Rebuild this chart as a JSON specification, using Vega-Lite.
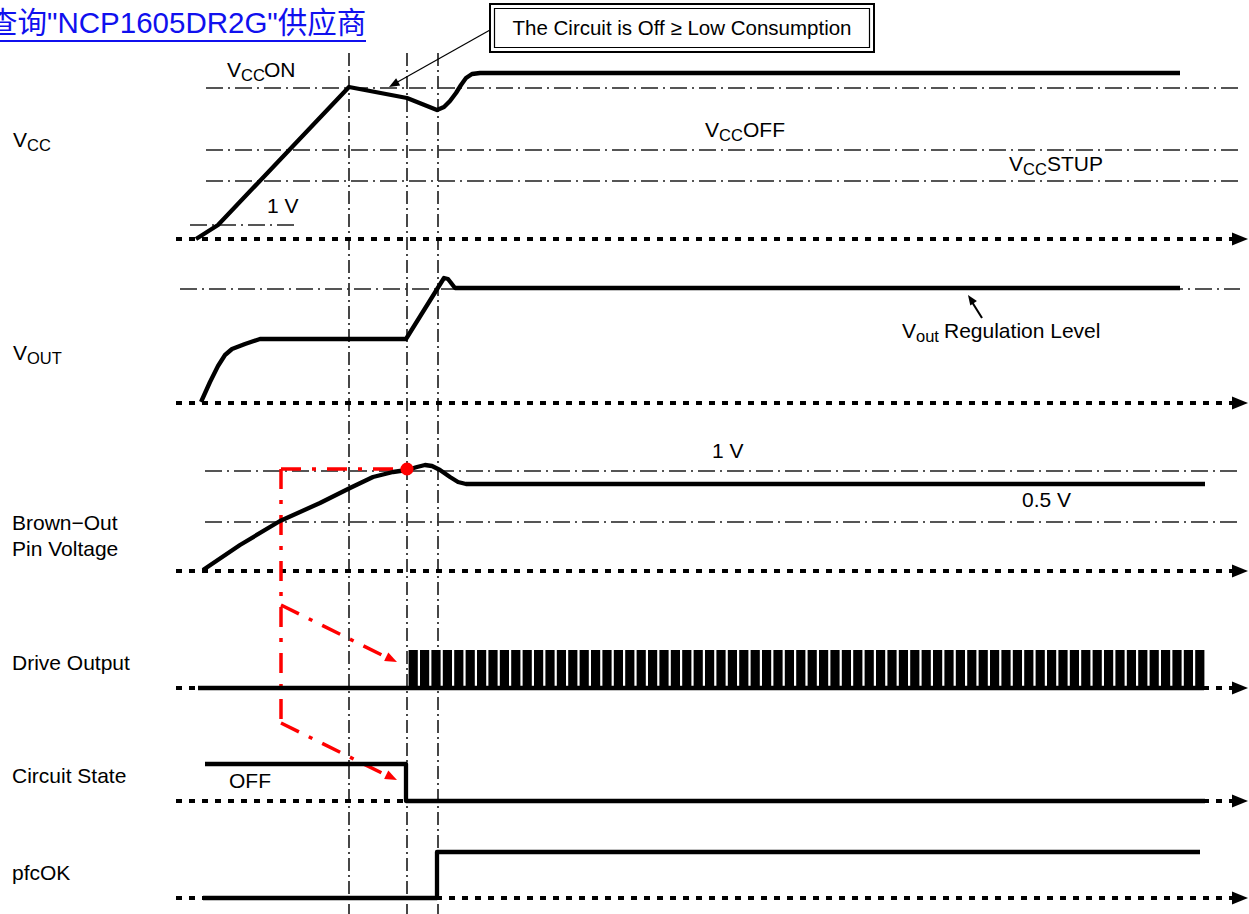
{
  "$schema": "https://vega.github.io/schema/vega-lite/v6.json",
  "width": 1249,
  "height": 914,
  "autosize": {"type": "none"},
  "padding": 0,
  "background": "white",
  "config": {"view": {"stroke": null}},
  "datasets": {
    "levels": [
      {"name": "VCCON", "t": 206, "t2": 1240, "v": 88},
      {"name": "VCCOFF", "t": 206, "t2": 1240, "v": 150},
      {"name": "VCCSTUP", "t": 206, "t2": 1240, "v": 181},
      {"name": "1V", "t": 190, "t2": 294, "v": 225},
      {"name": "VoutReg", "t": 180, "t2": 1240, "v": 289},
      {"name": "BO 1V", "t": 205, "t2": 1240, "v": 471},
      {"name": "BO 0.5V", "t": 205, "t2": 1240, "v": 522}
    ],
    "markers": [
      {"t": 349, "v": 53, "v2": 914},
      {"t": 407, "v": 53, "v2": 914},
      {"t": 438, "v": 53, "v2": 914}
    ],
    "baselines": [
      {"trace": "VCC", "t": 176, "t2": 1234, "v": 239},
      {"trace": "VOUT", "t": 176, "t2": 1234, "v": 403},
      {"trace": "Brown-Out", "t": 176, "t2": 1234, "v": 571},
      {"trace": "Drive", "t": 176, "t2": 1234, "v": 688},
      {"trace": "Circuit", "t": 176, "t2": 1234, "v": 801},
      {"trace": "pfcOK", "t": 176, "t2": 1234, "v": 898}
    ],
    "baselineTips": [
      {"t": 1248, "v": 239},
      {"t": 1248, "v": 403},
      {"t": 1248, "v": 571},
      {"t": 1248, "v": 688},
      {"t": 1248, "v": 801},
      {"t": 1248, "v": 898}
    ],
    "redPath": [
      {"t": 281, "v": 469, "t2": 407, "v2": 469},
      {"t": 281, "v": 469, "t2": 281, "v2": 723},
      {"t": 281, "v": 723, "t2": 388, "v2": 776},
      {"t": 281, "v": 605, "t2": 388, "v2": 658}
    ],
    "redTips": [
      {"t": 397, "v": 662},
      {"t": 397, "v": 780}
    ],
    "signals": [
      {"s": "VCC", "i": 0, "t": 196, "v": 239},
      {"s": "VCC", "i": 1, "t": 218, "v": 225},
      {"s": "VCC", "i": 2, "t": 349, "v": 87},
      {"s": "VCC", "i": 3, "t": 407, "v": 98},
      {"s": "VCC", "i": 4, "t": 437, "v": 110},
      {"s": "VCC", "i": 5, "t": 444, "v": 107},
      {"s": "VCC", "i": 6, "t": 450, "v": 101},
      {"s": "VCC", "i": 7, "t": 456, "v": 93},
      {"s": "VCC", "i": 8, "t": 461, "v": 85},
      {"s": "VCC", "i": 9, "t": 466, "v": 78},
      {"s": "VCC", "i": 10, "t": 472, "v": 74},
      {"s": "VCC", "i": 11, "t": 480, "v": 73},
      {"s": "VCC", "i": 12, "t": 1180, "v": 73},
      {"s": "VOUT", "i": 0, "t": 201, "v": 402},
      {"s": "VOUT", "i": 1, "t": 210, "v": 382},
      {"s": "VOUT", "i": 2, "t": 218, "v": 366},
      {"s": "VOUT", "i": 3, "t": 225, "v": 355},
      {"s": "VOUT", "i": 4, "t": 232, "v": 349},
      {"s": "VOUT", "i": 5, "t": 245, "v": 344},
      {"s": "VOUT", "i": 6, "t": 260, "v": 339},
      {"s": "VOUT", "i": 7, "t": 406, "v": 339},
      {"s": "VOUT", "i": 8, "t": 444, "v": 278},
      {"s": "VOUT", "i": 9, "t": 448, "v": 279},
      {"s": "VOUT", "i": 10, "t": 455, "v": 288},
      {"s": "VOUT", "i": 11, "t": 1180, "v": 288},
      {"s": "BO", "i": 0, "t": 203, "v": 570},
      {"s": "BO", "i": 1, "t": 240, "v": 545},
      {"s": "BO", "i": 2, "t": 280, "v": 521},
      {"s": "BO", "i": 3, "t": 320, "v": 503},
      {"s": "BO", "i": 4, "t": 350, "v": 488},
      {"s": "BO", "i": 5, "t": 373, "v": 477},
      {"s": "BO", "i": 6, "t": 393, "v": 472},
      {"s": "BO", "i": 7, "t": 407, "v": 470},
      {"s": "BO", "i": 8, "t": 417, "v": 467},
      {"s": "BO", "i": 9, "t": 425, "v": 465},
      {"s": "BO", "i": 10, "t": 432, "v": 466},
      {"s": "BO", "i": 11, "t": 440, "v": 470},
      {"s": "BO", "i": 12, "t": 450, "v": 477},
      {"s": "BO", "i": 13, "t": 458, "v": 482},
      {"s": "BO", "i": 14, "t": 466, "v": 484},
      {"s": "BO", "i": 15, "t": 1205, "v": 484},
      {"s": "Drive", "i": 0, "t": 198, "v": 688},
      {"s": "Drive", "i": 1, "t": 1204, "v": 688},
      {"s": "Circuit", "i": 0, "t": 205, "v": 764},
      {"s": "Circuit", "i": 1, "t": 406, "v": 764},
      {"s": "Circuit", "i": 2, "t": 406, "v": 801},
      {"s": "Circuit", "i": 3, "t": 1205, "v": 801},
      {"s": "pfcOK", "i": 0, "t": 203, "v": 898},
      {"s": "pfcOK", "i": 1, "t": 437, "v": 898},
      {"s": "pfcOK", "i": 2, "t": 437, "v": 852},
      {"s": "pfcOK", "i": 3, "t": 1200, "v": 852}
    ],
    "pulses": [
      {"t": 413.2, "v": 650, "v2": 688}, {"t": 424.6, "v": 650, "v2": 688}, {"t": 436.0, "v": 650, "v2": 688}, {"t": 447.4, "v": 650, "v2": 688}, {"t": 458.8, "v": 650, "v2": 688},
      {"t": 470.2, "v": 650, "v2": 688}, {"t": 481.6, "v": 650, "v2": 688}, {"t": 493.0, "v": 650, "v2": 688}, {"t": 504.4, "v": 650, "v2": 688}, {"t": 515.8, "v": 650, "v2": 688},
      {"t": 527.2, "v": 650, "v2": 688}, {"t": 538.6, "v": 650, "v2": 688}, {"t": 550.0, "v": 650, "v2": 688}, {"t": 561.4, "v": 650, "v2": 688}, {"t": 572.8, "v": 650, "v2": 688},
      {"t": 584.2, "v": 650, "v2": 688}, {"t": 595.6, "v": 650, "v2": 688}, {"t": 607.0, "v": 650, "v2": 688}, {"t": 618.4, "v": 650, "v2": 688}, {"t": 629.8, "v": 650, "v2": 688},
      {"t": 641.2, "v": 650, "v2": 688}, {"t": 652.6, "v": 650, "v2": 688}, {"t": 664.0, "v": 650, "v2": 688}, {"t": 675.4, "v": 650, "v2": 688}, {"t": 686.8, "v": 650, "v2": 688},
      {"t": 698.2, "v": 650, "v2": 688}, {"t": 709.6, "v": 650, "v2": 688}, {"t": 721.0, "v": 650, "v2": 688}, {"t": 732.4, "v": 650, "v2": 688}, {"t": 743.8, "v": 650, "v2": 688},
      {"t": 755.2, "v": 650, "v2": 688}, {"t": 766.6, "v": 650, "v2": 688}, {"t": 778.0, "v": 650, "v2": 688}, {"t": 789.4, "v": 650, "v2": 688}, {"t": 800.8, "v": 650, "v2": 688},
      {"t": 812.2, "v": 650, "v2": 688}, {"t": 823.6, "v": 650, "v2": 688}, {"t": 835.0, "v": 650, "v2": 688}, {"t": 846.4, "v": 650, "v2": 688}, {"t": 857.8, "v": 650, "v2": 688},
      {"t": 869.2, "v": 650, "v2": 688}, {"t": 880.6, "v": 650, "v2": 688}, {"t": 892.0, "v": 650, "v2": 688}, {"t": 903.4, "v": 650, "v2": 688}, {"t": 914.8, "v": 650, "v2": 688},
      {"t": 926.2, "v": 650, "v2": 688}, {"t": 937.6, "v": 650, "v2": 688}, {"t": 949.0, "v": 650, "v2": 688}, {"t": 960.4, "v": 650, "v2": 688}, {"t": 971.8, "v": 650, "v2": 688},
      {"t": 983.2, "v": 650, "v2": 688}, {"t": 994.6, "v": 650, "v2": 688}, {"t": 1006.0, "v": 650, "v2": 688}, {"t": 1017.4, "v": 650, "v2": 688}, {"t": 1028.8, "v": 650, "v2": 688},
      {"t": 1040.2, "v": 650, "v2": 688}, {"t": 1051.6, "v": 650, "v2": 688}, {"t": 1063.0, "v": 650, "v2": 688}, {"t": 1074.4, "v": 650, "v2": 688}, {"t": 1085.8, "v": 650, "v2": 688},
      {"t": 1097.2, "v": 650, "v2": 688}, {"t": 1108.6, "v": 650, "v2": 688}, {"t": 1120.0, "v": 650, "v2": 688}, {"t": 1131.4, "v": 650, "v2": 688}, {"t": 1142.8, "v": 650, "v2": 688},
      {"t": 1154.2, "v": 650, "v2": 688}, {"t": 1165.6, "v": 650, "v2": 688}, {"t": 1177.0, "v": 650, "v2": 688}, {"t": 1188.4, "v": 650, "v2": 688}, {"t": 1199.8, "v": 650, "v2": 688}
    ],
    "labels": [
      {"t": 13, "v": 147, "label": "V"},
      {"t": 13, "v": 360, "label": "V"},
      {"t": 12, "v": 530, "label": "Brown−Out"},
      {"t": 12, "v": 556, "label": "Pin Voltage"},
      {"t": 12, "v": 670, "label": "Drive Output"},
      {"t": 12, "v": 783, "label": "Circuit State"},
      {"t": 12, "v": 880, "label": "pfcOK"},
      {"t": 227, "v": 77, "label": "V"},
      {"t": 264, "v": 77, "label": "ON"},
      {"t": 267, "v": 213, "label": "1 V"},
      {"t": 705, "v": 137, "label": "V"},
      {"t": 743, "v": 137, "label": "OFF"},
      {"t": 1009, "v": 171, "label": "V"},
      {"t": 1047, "v": 171, "label": "STUP"},
      {"t": 902, "v": 338, "label": "V"},
      {"t": 944, "v": 338, "label": "Regulation Level"},
      {"t": 712, "v": 458, "label": "1 V"},
      {"t": 1022, "v": 507, "label": "0.5 V"},
      {"t": 229, "v": 788, "label": "OFF"}
    ],
    "subs": [
      {"t": 27, "v": 151, "label": "CC"},
      {"t": 27, "v": 364, "label": "OUT"},
      {"t": 241, "v": 81, "label": "CC"},
      {"t": 719, "v": 141, "label": "CC"},
      {"t": 1023, "v": 175, "label": "CC"},
      {"t": 916, "v": 342, "label": "out"}
    ]
  },
  "encoding": {
    "x": {"field": "t", "type": "quantitative", "scale": {"domain": [0, 1249], "nice": false, "zero": false}, "axis": null},
    "y": {"field": "v", "type": "quantitative", "scale": {"domain": [914, 0], "nice": false, "zero": false}, "axis": null}
  },
  "layer": [
    {
      "data": {"name": "levels"},
      "mark": {"type": "rule", "color": "#555555", "strokeWidth": 2, "strokeDash": [17, 5, 2, 5]},
      "encoding": {"x2": {"field": "t2"}}
    },
    {
      "data": {"name": "markers"},
      "mark": {"type": "rule", "color": "#333333", "strokeWidth": 1.8, "strokeDash": [13, 4, 2, 4]},
      "encoding": {"y2": {"field": "v2"}}
    },
    {
      "data": {"name": "baselines"},
      "mark": {"type": "rule", "color": "black", "strokeWidth": 4, "strokeDash": [6, 7]},
      "encoding": {"x2": {"field": "t2"}}
    },
    {
      "data": {"name": "baselineTips"},
      "mark": {"type": "point", "shape": "M0,0L-0.8,2L0.8,2Z", "filled": true, "color": "black", "opacity": 1, "size": 256, "angle": 90, "strokeWidth": 0}
    },
    {
      "data": {"name": "redPath"},
      "mark": {"type": "rule", "color": "#ff0000", "strokeWidth": 3.5, "strokeDash": [20, 11, 4, 11]},
      "encoding": {"x2": {"field": "t2"}, "y2": {"field": "v2"}}
    },
    {
      "data": {"name": "redTips"},
      "mark": {"type": "point", "shape": "M0,0L-0.8,2L0.8,2Z", "filled": true, "color": "#ff0000", "opacity": 1, "size": 144, "angle": 116, "strokeWidth": 0}
    },
    {
      "data": {"name": "signals"},
      "mark": {"type": "line", "color": "black", "strokeWidth": 4.3, "strokeJoin": "round"},
      "encoding": {"detail": {"field": "s"}, "order": {"field": "i", "type": "quantitative"}}
    },
    {
      "data": {"name": "pulses"},
      "mark": {"type": "rule", "color": "black", "strokeWidth": 9.2},
      "encoding": {"y2": {"field": "v2"}}
    },
    {
      "data": {"values": [{"t": 407, "v": 469}]},
      "mark": {"type": "point", "shape": "circle", "filled": true, "color": "#ff0000", "opacity": 1, "size": 170}
    },
    {
      "data": {"values": [{"t": 490, "v": 4, "t2": 874, "v2": 52}]},
      "mark": {"type": "rect", "filled": false, "stroke": "black", "strokeWidth": 2},
      "encoding": {"x2": {"field": "t2"}, "y2": {"field": "v2"}}
    },
    {
      "data": {"values": [{"t": 494.5, "v": 8.5, "t2": 869.5, "v2": 47.5}]},
      "mark": {"type": "rect", "filled": false, "stroke": "black", "strokeWidth": 1.2},
      "encoding": {"x2": {"field": "t2"}, "y2": {"field": "v2"}}
    },
    {
      "data": {"values": [{"t": 682, "v": 35, "label": "The Circuit is Off ≥ Low Consumption"}]},
      "mark": {"type": "text", "font": "Liberation Sans", "fontSize": 20.5, "align": "center", "baseline": "alphabetic", "color": "black"},
      "encoding": {"text": {"field": "label"}}
    },
    {
      "data": {"values": [{"t": 490, "v": 30, "t2": 394, "v2": 84}]},
      "mark": {"type": "rule", "color": "black", "strokeWidth": 1.2},
      "encoding": {"x2": {"field": "t2"}, "y2": {"field": "v2"}}
    },
    {
      "data": {"values": [{"t": 389, "v": 87}]},
      "mark": {"type": "point", "shape": "M0,0L-0.8,2L0.8,2Z", "filled": true, "color": "black", "opacity": 1, "size": 110, "angle": 241, "strokeWidth": 0}
    },
    {
      "data": {"values": [{"t": 982, "v": 318, "t2": 972, "v2": 302}]},
      "mark": {"type": "rule", "color": "black", "strokeWidth": 2},
      "encoding": {"x2": {"field": "t2"}, "y2": {"field": "v2"}}
    },
    {
      "data": {"values": [{"t": 968, "v": 295}]},
      "mark": {"type": "point", "shape": "M0,0L-0.8,2L0.8,2Z", "filled": true, "color": "black", "opacity": 1, "size": 100, "angle": 326, "strokeWidth": 0}
    },
    {
      "data": {"values": [{"t": -12, "v": 33, "label": "查询\"NCP1605DR2G\"供应商"}]},
      "mark": {"type": "text", "font": "Liberation Sans, Noto Sans CJK SC", "fontSize": 29.5, "align": "left", "baseline": "alphabetic", "color": "#1010ee"},
      "encoding": {"text": {"field": "label"}}
    },
    {
      "data": {"values": [{"t": 0, "t2": 366, "v": 41}]},
      "mark": {"type": "rule", "color": "#1010ee", "strokeWidth": 2},
      "encoding": {"x2": {"field": "t2"}}
    },
    {
      "data": {"name": "labels"},
      "mark": {"type": "text", "font": "Liberation Sans", "fontSize": 21, "align": "left", "baseline": "alphabetic", "color": "black"},
      "encoding": {"text": {"field": "label"}}
    },
    {
      "data": {"name": "subs"},
      "mark": {"type": "text", "font": "Liberation Sans", "fontSize": 16.5, "align": "left", "baseline": "alphabetic", "color": "black"},
      "encoding": {"text": {"field": "label"}}
    }
  ]
}
